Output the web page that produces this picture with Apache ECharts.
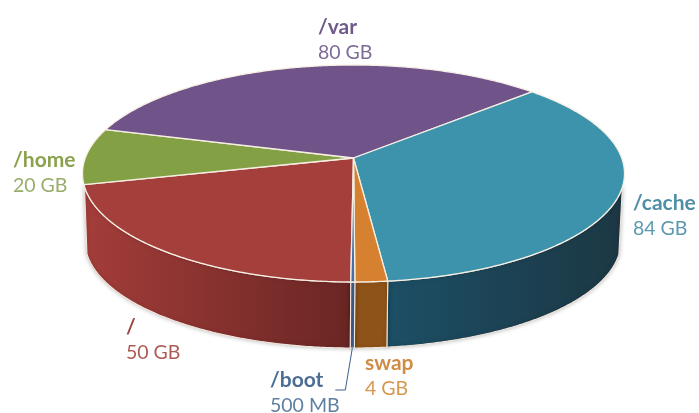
<!DOCTYPE html>
<html>
<head>
<meta charset="utf-8">
<style>
  html, body { margin: 0; background: #fff; }
  #chart { width: 699px; height: 413px; }
</style>
<script src="https://cdn.jsdelivr.net/npm/echarts@6/dist/echarts.min.js"></script>
</head>
<body>
<div id="chart"></div>
<script>
// clockwise from the front of the pie
const sliceNames = ['/', '/home', '/var', '/cache', 'swap', '/boot'];
const sliceValues = [50, 20, 80, 84, 4, 0.5];
const sizeLabels = ['50 GB', '20 GB', '80 GB', '84 GB', '4 GB', '500 MB'];

const topColors = ['#a43f3c', '#84a045', '#6f5389', '#3e93ac', '#d5812f', '#4a6fa0'];
const wallLeft = ['#a33d3a', '#84a045', '#6f5389', '#1c4f66', '#8e5318', '#3f5f8c'];
const wallRight = ['#6a2624', '#84a045', '#6f5389', '#1c3743', '#8e5318', '#3f5f8c'];
const nameColors = ['#9c4a48', '#8aa24e', '#6f5a8a', '#4e8fa6', '#d08c45', '#4d6e94'];
const sizeColors = ['#ae5a55', '#97ae6a', '#7e6c96', '#5b99ae', '#d59650', '#5f7fa3'];
const labelX = [126, 13, 318, 633, 365, 270];
const labelY = [327, 160, 27, 203, 363, 380];

const topFace = { cx: 353.5, cy: 173.5, rx: 271, ry: 108.5 };
const bottomFace = { cx: 353, cy: 241, rx: 268, ry: 107 };
const tilt = -0.143;      // apex sits above the ellipse centre (perspective)
const startDeg = 0.5;
const wallCut = 0.12;     // walls only show below this point of the ellipse

const total = sliceValues.reduce((a, b) => a + b, 0);

function sliceRange(i) {
  let before = 0;
  for (let k = 0; k < i; k++) before += sliceValues[k];
  return [startDeg + before / total * 360, startDeg + (before + sliceValues[i]) / total * 360];
}

// disc angle to unit ellipse, through a perspective shift
function project(deg) {
  const t = deg * Math.PI / 180;
  const u = -Math.sin(t);
  const v = Math.cos(t);
  const d = 1 + tilt * v;
  return [u * Math.sqrt(1 - tilt * tilt) / d, (v + tilt) / d];
}

function onFace(p, face) {
  return [face.cx + p[0] * face.rx, face.cy + p[1] * face.ry];
}

function arcAngles(i) {
  const r = sliceRange(i);
  const steps = Math.max(2, Math.ceil((r[1] - r[0]) * 2));
  const out = [];
  for (let s = 0; s <= steps; s++) out.push(r[0] + (r[1] - r[0]) * s / steps);
  return out;
}

function renderTop(params, api) {
  const i = api.value(0);
  const apex = onFace([0, tilt], topFace);
  const points = [apex].concat(arcAngles(i).map(a => onFace(project(a), topFace)));
  return {
    type: 'polygon',
    shape: { points: points },
    style: { fill: topColors[i], stroke: '#f6efe4', lineWidth: 1.3, lineJoin: 'round' }
  };
}

function renderWall(params, api) {
  const i = api.value(0);
  const angles = arcAngles(i).filter(a => project(a)[1] >= wallCut);
  if (angles.length < 2) return null;
  const upper = angles.map(a => onFace(project(a), topFace));
  const lower = angles.map(a => onFace(project(a), bottomFace)).reverse();
  return {
    type: 'polygon',
    shape: { points: upper.concat(lower) },
    style: {
      fill: new echarts.graphic.LinearGradient(0, 0, 1, 0, [
        { offset: 0, color: wallLeft[i] },
        { offset: 1, color: wallRight[i] }
      ]),
      stroke: '#f3e6dc',
      lineWidth: 1.1,
      shadowBlur: 4,
      shadowColor: 'rgba(0,0,0,0.25)'
    }
  };
}

function renderLabel(params, api) {
  const i = api.value(0);
  const children = [{
    type: 'text',
    style: {
      x: labelX[i], y: labelY[i], text: sliceNames[i], fill: nameColors[i],
      font: 'bold 21px Lato', textVerticalAlign: 'middle'
    }
  }, {
    type: 'text',
    style: {
      x: labelX[i], y: labelY[i] + 26, text: sizeLabels[i], fill: sizeColors[i],
      font: '19.5px Lato', textVerticalAlign: 'middle'
    }
  }];
  if (sliceNames[i] === '/boot') {
    // leader from the thin slice down to its label
    const r = sliceRange(i);
    const from = onFace(project((r[0] + r[1]) / 2), bottomFace);
    children.push({
      type: 'polyline',
      shape: { points: [from, [from[0] - 7, 390], [from[0] - 17, 390]] },
      style: { fill: 'none', stroke: '#3f5f8c', lineWidth: 1 }
    });
  }
  return { type: 'group', children: children };
}

const sliceData = sliceValues.map((v, i) => [i, v]);

const chart = echarts.init(document.getElementById('chart'), null, { renderer: 'canvas' });
chart.setOption({
  animation: false,
  backgroundColor: '#fff',
  series: [
    { type: 'custom', coordinateSystem: 'none', renderItem: renderWall, data: sliceData, z: 1, silent: true },
    { type: 'custom', coordinateSystem: 'none', renderItem: renderTop, data: sliceData, z: 2, silent: true },
    { type: 'custom', coordinateSystem: 'none', renderItem: renderLabel, data: sliceData, z: 3, silent: true }
  ]
});
</script>
</body>
</html>
